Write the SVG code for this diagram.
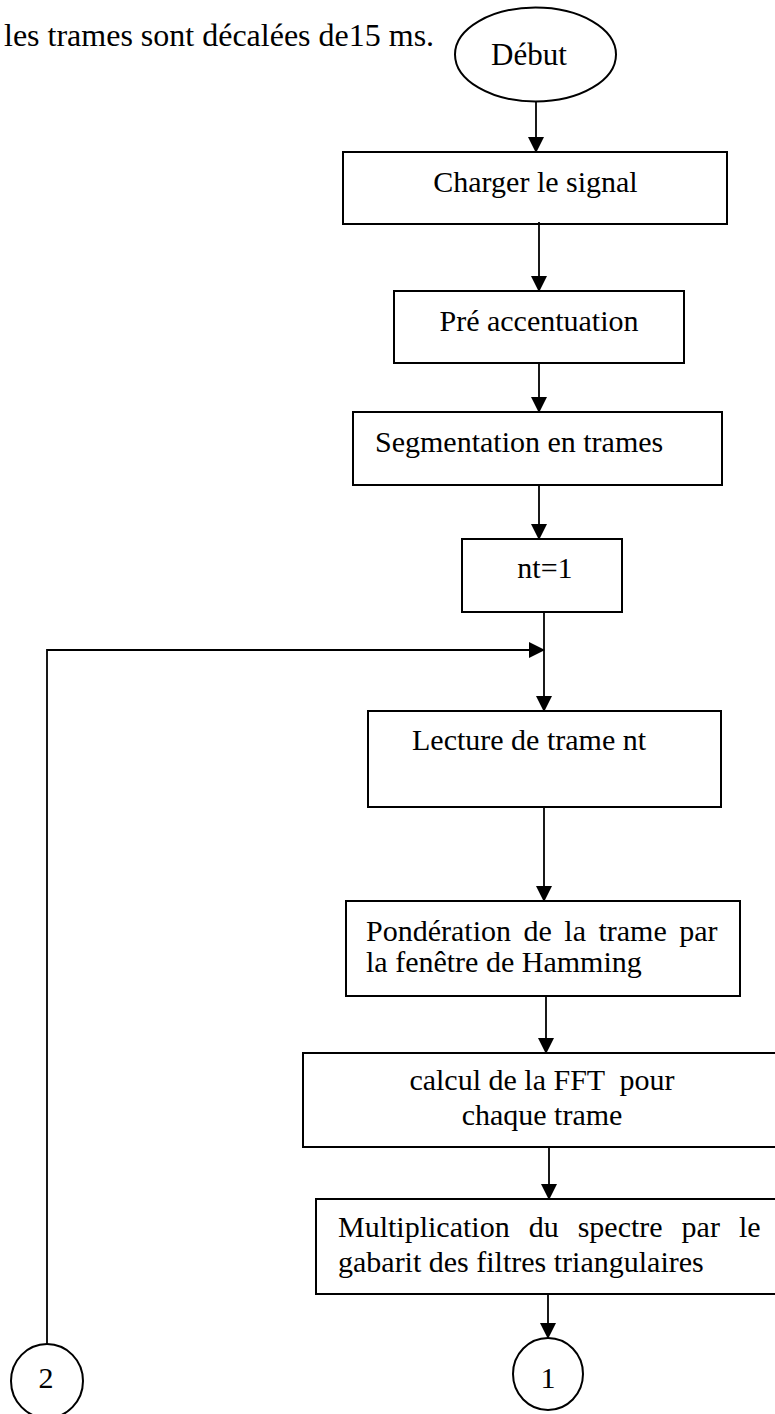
<svg xmlns="http://www.w3.org/2000/svg" width="775" height="1414" viewBox="0 0 775 1414">
<style>
.t{font-family:"Liberation Serif","Times New Roman",serif;font-size:30px;fill:#000}
.b{fill:#fff;stroke:#000;stroke-width:2}
.c{fill:none;stroke:#000;stroke-width:1.8}
</style>
<defs>
<marker id="ah" markerUnits="userSpaceOnUse" markerWidth="16" markerHeight="16" viewBox="0 0 16 16" refX="15" refY="8" orient="auto">
<path d="M0,0 L16,8 L0,16 Z" fill="#000"/>
</marker>
</defs>
<rect width="775" height="1414" fill="#fff"/>
<text class="t" x="4" y="46" style="font-size:32px">les trames sont décalées de15 ms.</text>
<g id="debut"><ellipse class="b" cx="535.5" cy="54.5" rx="80.5" ry="47"/><text class="t" x="529" y="65" text-anchor="middle" style="font-size:31px">Début</text></g>
<g id="charger"><rect class="b" x="343" y="152" width="384" height="72"/><text class="t" x="535.5" y="192" text-anchor="middle">Charger le signal</text></g>
<g id="pre"><rect class="b" x="394" y="291" width="290" height="72"/><text class="t" x="539" y="331" text-anchor="middle">Pré accentuation</text></g>
<g id="seg"><rect class="b" x="353" y="412" width="369" height="73"/><text class="t" x="375" y="452">Segmentation en trames</text></g>
<g id="nt"><rect class="b" x="462" y="539" width="160" height="73"/><text class="t" x="545" y="578" text-anchor="middle">nt=1</text></g>
<g id="lecture"><rect class="b" x="368" y="711" width="353" height="96"/><text class="t" x="412" y="750">Lecture de trame nt</text></g>
<g id="pond"><rect class="b" x="346" y="901" width="394" height="95"/><text class="t" x="366" y="941" word-spacing="5">Pondération de la trame par</text><text class="t" x="366" y="972">la fenêtre de Hamming</text></g>
<g id="fft"><rect class="b" x="303" y="1053" width="478" height="94"/><text class="t" x="542" y="1090" text-anchor="middle" xml:space="preserve">calcul de la FFT  pour</text><text class="t" x="542" y="1125" text-anchor="middle">chaque trame</text></g>
<g id="mult"><rect class="b" x="316" y="1199" width="465" height="95"/><text class="t" x="338" y="1237" word-spacing="11.5">Multiplication du spectre par le</text><text class="t" x="338" y="1272">gabarit des filtres triangulaires</text></g>
<g id="c1"><ellipse class="b" cx="548" cy="1374" rx="35" ry="36"/><text class="t" x="548" y="1388" text-anchor="middle">1</text></g>
<g id="c2"><ellipse class="b" cx="47" cy="1381" rx="36" ry="37"/><text class="t" x="46" y="1388" text-anchor="middle">2</text></g>
<g id="connectors">
<path class="c" d="M536,102 V152" marker-end="url(#ah)"/>
<path class="c" d="M539,222 V291" marker-end="url(#ah)"/>
<path class="c" d="M539,363 V412" marker-end="url(#ah)"/>
<path class="c" d="M539,485 V539" marker-end="url(#ah)"/>
<path class="c" d="M544,612 V711" marker-end="url(#ah)"/>
<path class="c" d="M47,1344 V650 H544" marker-end="url(#ah)"/>
<path class="c" d="M544,807 V901" marker-end="url(#ah)"/>
<path class="c" d="M546,996 V1053" marker-end="url(#ah)"/>
<path class="c" d="M549,1147 V1199" marker-end="url(#ah)"/>
<path class="c" d="M548,1294 V1338" marker-end="url(#ah)"/>
</g>
</svg>
